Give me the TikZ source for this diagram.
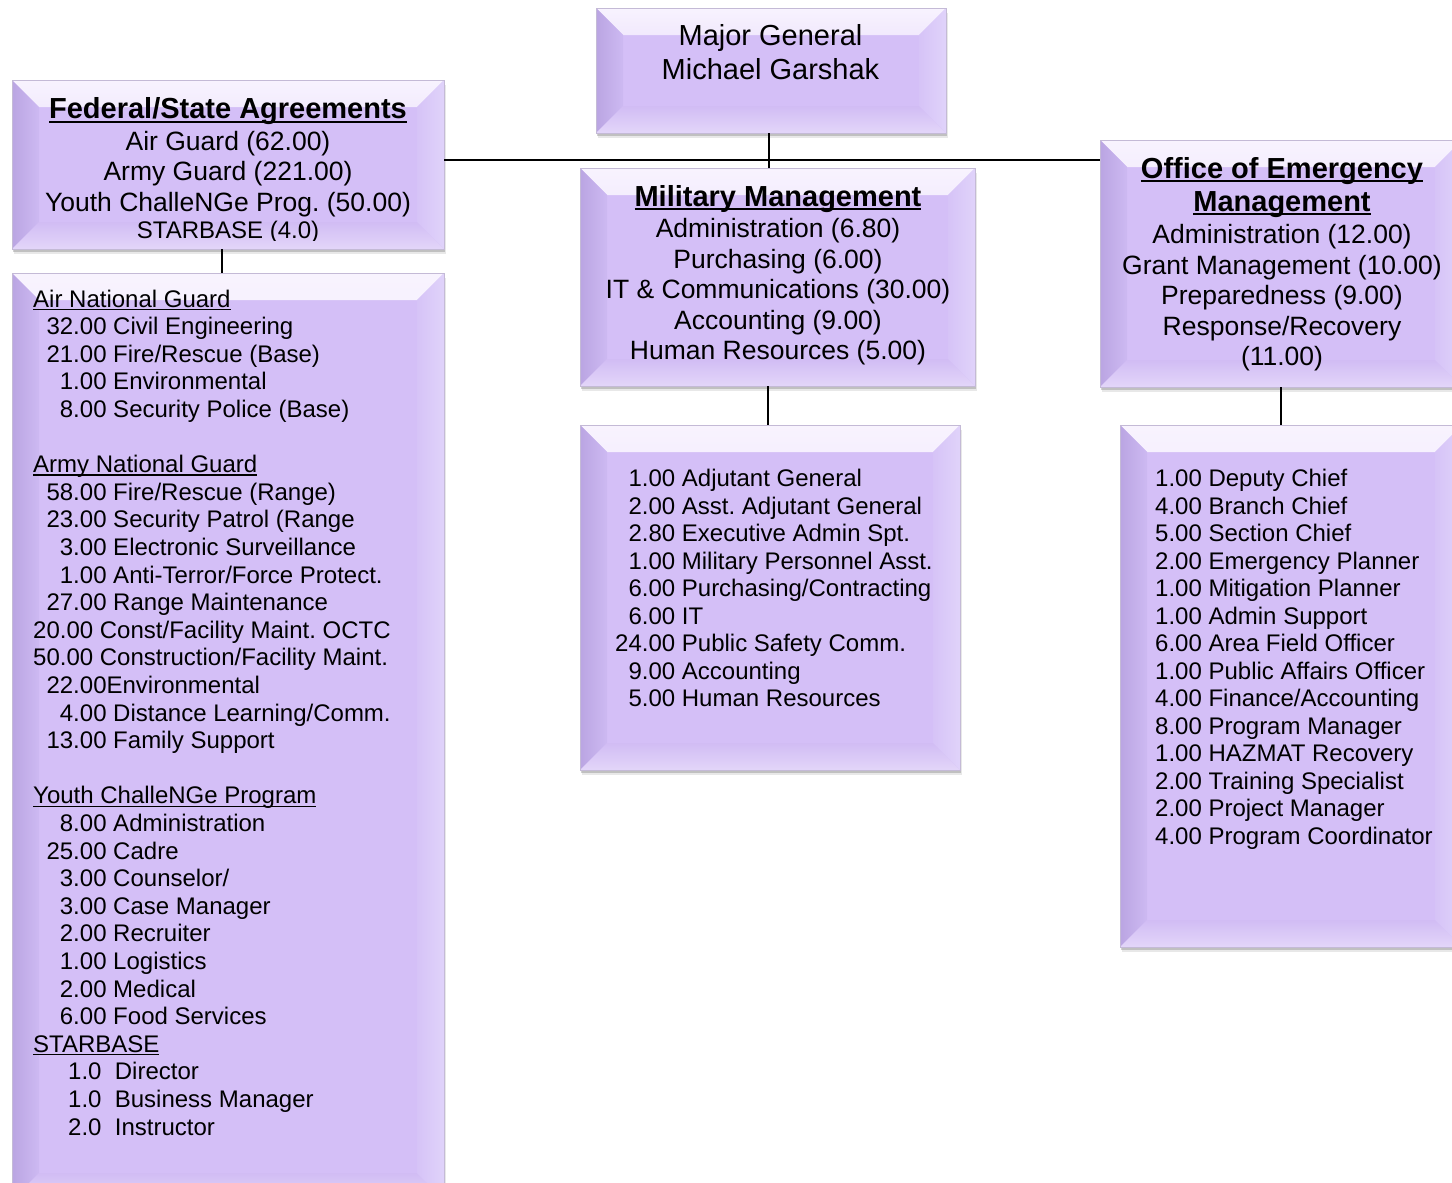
\documentclass[tikz,border=0pt]{standalone}
\usepackage{fontspec}
\setmainfont{Liberation Sans}
\usetikzlibrary{shadows}
\definecolor{bmid}{HTML}{D4BFF7}
\definecolor{btopo}{HTML}{F8F3FE}
\definecolor{btopi}{HTML}{D8C5F8}
\definecolor{blefto}{HTML}{BAA5E2}
\definecolor{blefti}{HTML}{CDB9F2}
\definecolor{bboti}{HTML}{D1BCF4}
\definecolor{bboto}{HTML}{E3D6F9}
\definecolor{brighti}{HTML}{D6C3F7}
\definecolor{brighto}{HTML}{E0D3FA}
\definecolor{bedge}{HTML}{C4BAD6}
\newcommand\ulA[1]{\leavevmode\setbox0=\hbox{#1}\rlap{\rule[-3pt]{\wd0}{1.3pt}}\box0}
\newcommand\ulB[1]{\leavevmode\setbox0=\hbox{#1}\rlap{\rule[-4pt]{\wd0}{2pt}}\box0}
\def\bw{27pt}
\tikzset{
  bevbox/.style={rectangle, inner sep=0pt, outer sep=0pt, fill=bmid, draw=bedge, line width=0.5pt,
    drop shadow={shadow xshift=1.5pt, shadow yshift=-5pt, fill=black!60, opacity=0.15},
    drop shadow={shadow xshift=1pt, shadow yshift=-2.5pt, fill=black!60, opacity=0.3},
    path picture={
      \shade[top color=btopo, bottom color=btopi]
        (path picture bounding box.north west) -- (path picture bounding box.north east)
        -- ([shift={(-\bw,-\bw)}]path picture bounding box.north east)
        -- ([shift={(\bw,-\bw)}]path picture bounding box.north west) -- cycle;
      \shade[left color=blefto, right color=blefti]
        (path picture bounding box.north west) -- ([shift={(\bw,-\bw)}]path picture bounding box.north west)
        -- ([shift={(\bw,\bw)}]path picture bounding box.south west)
        -- (path picture bounding box.south west) -- cycle;
      \shade[top color=bboti, bottom color=bboto]
        (path picture bounding box.south west) -- ([shift={(\bw,\bw)}]path picture bounding box.south west)
        -- ([shift={(-\bw,\bw)}]path picture bounding box.south east)
        -- (path picture bounding box.south east) -- cycle;
      \shade[left color=brighti, right color=brighto]
        (path picture bounding box.north east) -- ([shift={(-\bw,-\bw)}]path picture bounding box.north east)
        -- ([shift={(-\bw,\bw)}]path picture bounding box.south east)
        -- (path picture bounding box.south east) -- cycle;
    }},
  conn/.style={draw=black, line width=1.2pt},
  big/.style={inner sep=0pt, anchor=base, font=\fontsize{29}{33}\selectfont},
  hdr/.style={inner sep=0pt, anchor=base, font=\bfseries\fontsize{29}{33}\selectfont},
  mid/.style={inner sep=0pt, anchor=base, font=\fontsize{26.5}{30.5}\selectfont},
  sml/.style={inner sep=0pt, anchor=base, font=\fontsize{24}{27.5}\selectfont},
  lst/.style={inner sep=0pt, anchor=base west, font=\fontsize{24}{27.5}\selectfont},
}
\frenchspacing
\begin{document}
\frenchspacing
\begin{tikzpicture}[x=1pt,y=-1pt]
\useasboundingbox (0,0) rectangle (1452,1183);
\fill[white] (0,0) rectangle (1452,1183);
\clip (0,0) rectangle (1452,1183);

% boxes
\node[bevbox, anchor=north west, minimum width=350pt, minimum height=125pt] (mg) at (596,8) {};
\node[bevbox, anchor=north west, minimum width=432pt, minimum height=169pt] (fed) at (12,80) {};
\node[bevbox, anchor=north west, minimum width=432pt, minimum height=927pt] (ang) at (12,273) {};
\node[bevbox, anchor=north west, minimum width=395pt, minimum height=218pt] (mil) at (580,168) {};
\node[bevbox, anchor=north west, minimum width=380pt, minimum height=345pt] (mild) at (580,425) {};
\node[bevbox, anchor=north west, minimum width=362pt, minimum height=247pt] (oem) at (1100,140) {};
\node[bevbox, anchor=north west, minimum width=342pt, minimum height=522pt] (oemd) at (1120,425) {};

% connectors
\coordinate (hl) at (0,160);
\draw[conn] (fed.east |- hl) -- (oem.west |- hl);
\draw[conn] ([xshift=-2pt]mg.south) -- ([xshift=-2pt]mg.south |- mil.north);
\draw[conn] ([xshift=-6pt]fed.south) -- ([xshift=-6pt]fed.south |- ang.north);
\draw[conn] ([xshift=-2pt]mild.north |- mil.south) -- ([xshift=-2pt]mild.north);
\draw[conn] ([xshift=-10pt]oemd.north |- oem.south) -- ([xshift=-10pt]oemd.north);

% top box text
\node[big] (mg1) at (770.5,45.5) {Major General};
\node[big] (mg2) at (770.5,79.5) {Michael Garshak};

% federal/state
\node[hdr] (fed0) at (228,118.5) {\ulB{Federal/State Agreements}};
\node[mid] (fed1) at (228,150) {Air Guard (62.00)};
\node[mid] (fed2) at (228,180.5) {Army Guard (221.00)};
\node[mid] (fed3) at (228,211) {Youth ChalleNGe Prog. (50.00)};
\begin{scope}
\clip (12,80) rectangle (444,240.5);
\node[sml] (fed4) at (228,238.5) {STARBASE (4.0)};
\end{scope}

% military management
\node[hdr] (mil0) at (778,206.4) {\ulB{Military Management}};
\foreach \t [count=\i] in {Administration (6.80), Purchasing (6.00), IT \& Communications (30.00), Accounting (9.00), Human Resources (5.00)}
  \node[mid] (mil\i) at (778,{237.5+30.5*(\i-1)}) {\t};

% OEM
\node[hdr] (oem0) at (1282,178.4) {\ulB{Office of Emergency}};
\node[hdr] (oem00) at (1282,211.4) {\ulB{Management}};
\foreach \t [count=\i] in {Administration (12.00), Grant Management (10.00), Preparedness (9.00), Response/Recovery, (11.00)}
  \node[mid] (oem\i) at (1282,{243.5+30.6*(\i-1)}) {\t};

% ANG list
\foreach \t [count=\i] in {
  {\ulA{Air National Guard}},
  {\phantom{0}32.00 Civil Engineering},
  {\phantom{0}21.00 Fire/Rescue (Base)},
  {\phantom{00}1.00 Environmental},
  {\phantom{00}8.00 Security Police (Base)},
  {},
  {\ulA{Army National Guard}},
  {\phantom{0}58.00 Fire/Rescue (Range)},
  {\phantom{0}23.00 Security Patrol (Range},
  {\phantom{00}3.00 Electronic Surveillance},
  {\phantom{00}1.00 Anti-Terror/Force Protect.},
  {\phantom{0}27.00 Range Maintenance},
  {20.00 Const/Facility Maint.\ OCTC},
  {50.00 Construction/Facility Maint.},
  {\phantom{0}22.00Environmental},
  {\phantom{00}4.00 Distance Learning/Comm.},
  {\phantom{0}13.00 Family Support},
  {},
  {\ulA{Youth ChalleNGe Program}},
  {\phantom{00}8.00 Administration},
  {\phantom{0}25.00 Cadre},
  {\phantom{00}3.00 Counselor/},
  {\phantom{00}3.00 Case Manager},
  {\phantom{00}2.00 Recruiter},
  {\phantom{00}1.00 Logistics},
  {\phantom{00}2.00 Medical},
  {\phantom{00}6.00 Food Services},
  {\ulA{STARBASE}},
  {\hspace*{35pt}1.0\ \ Director},
  {\hspace*{35pt}1.0\ \ Business Manager},
  {\hspace*{35pt}2.0\ \ Instructor}}
  \node[lst] (ang\i) at (33,{307+27.6*(\i-1)}) {\t};

% military detail list
\foreach \t [count=\i] in {
  {\phantom{0}1.00 Adjutant General},
  {\phantom{0}2.00 Asst.\ Adjutant General},
  {\phantom{0}2.80 Executive Admin Spt.},
  {\phantom{0}1.00 Military Personnel Asst.},
  {\phantom{0}6.00 Purchasing/Contracting},
  {\phantom{0}6.00 IT},
  {24.00 Public Safety Comm.},
  {\phantom{0}9.00 Accounting},
  {\phantom{0}5.00 Human Resources}}
  \node[lst] (mild\i) at (615,{486.7+27.5*(\i-1)}) {\t};

% OEM detail list
\foreach \t [count=\i] in {
  {1.00 Deputy Chief},
  {4.00 Branch Chief},
  {5.00 Section Chief},
  {2.00 Emergency Planner},
  {1.00 Mitigation Planner},
  {1.00 Admin Support},
  {6.00 Area Field Officer},
  {1.00 Public Affairs Officer},
  {4.00 Finance/Accounting},
  {8.00 Program Manager},
  {1.00 HAZMAT Recovery},
  {2.00 Training Specialist},
  {2.00 Project Manager},
  {4.00 Program Coordinator}}
  \node[lst] (oemd\i) at (1155,{486.7+27.5*(\i-1)}) {\t};
\end{tikzpicture}
\end{document}
